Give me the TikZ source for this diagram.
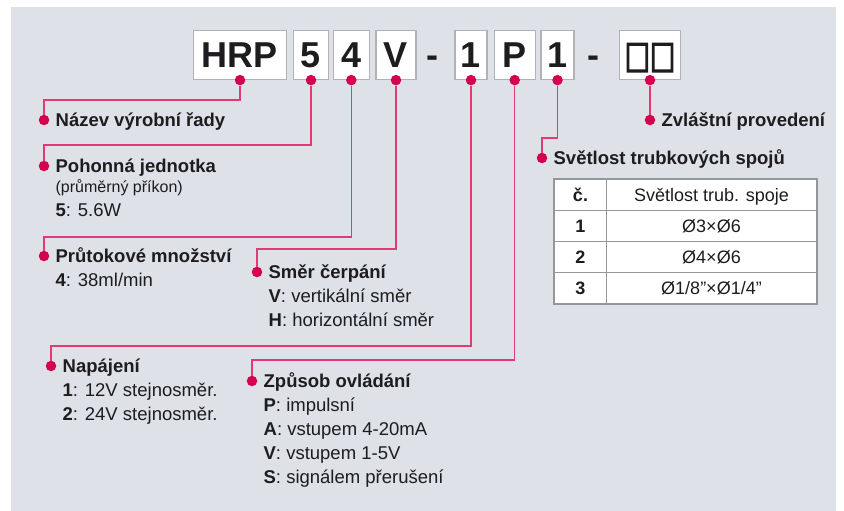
\documentclass[tikz,border=0pt]{standalone}
\usepackage{fontspec}
\setmainfont{Liberation Sans}
\newfontfamily\squarefont[FakeBold=3,FakeStretch=0.7]{Liberation Sans}
\usetikzlibrary{positioning,matrix}
\definecolor{panel}{RGB}{222,225,232}
\definecolor{pinred}{RGB}{213,0,80}
\definecolor{leadred}{RGB}{226,58,118}
\definecolor{frame}{RGB}{178,178,182}
\definecolor{tablegray}{RGB}{150,150,154}
\definecolor{ink}{RGB}{30,28,30}
\begin{document}
\begin{tikzpicture}[x=1pt,y=-1pt,
	codebox/.style={draw=frame,line width=1.2pt,fill=white,minimum height=49pt,inner sep=0pt,
		text height=26pt,text depth=0pt,text=ink,font=\bfseries\fontsize{36}{36}\selectfont},
	dashmark/.style={inner sep=0pt,text height=26pt,text depth=0pt,text=ink,
		font=\bfseries\fontsize{36}{36}\selectfont},
	pindot/.style={circle,fill=pinred,minimum size=10.5pt,inner sep=0pt},
	lead/.style={draw=leadred,line width=1.3pt},
	heading/.style={inner sep=0pt,text height=13pt,text depth=0pt,anchor=west,text=ink,
		font=\bfseries\fontsize{18.5}{22}\selectfont},
	entry/.style={inner sep=0pt,anchor=base west,text=ink,font=\fontsize{18.5}{22}\selectfont},
	smallnote/.style={inner sep=0pt,anchor=base west,text=ink,font=\fontsize{16}{19}\selectfont}]
	\useasboundingbox (0,0) rectangle (844,511);
	\fill[panel] (11,7) rectangle (836,511);

	\node[codebox,minimum width=93pt] (hrp) at (240,55) {HRP};
	\node[codebox,minimum width=35pt] (pw) at (311,55) {5};
	\node[codebox,minimum width=36pt] (fl) at (351.3,55) {4};
	\node[codebox,minimum width=40pt] (dir) at (396,55) {V};
	\node[dashmark] (da) at (432,55) {-};
	\node[codebox,minimum width=32pt] (volt) at (471,55) {1};
	\node[codebox,minimum width=41pt] (ctl) at (514.7,55) {P};
	\node[codebox,minimum width=33pt] (tube) at (557.5,55) {1};
	\node[dashmark] (db) at (593,55) {-};
	\node[codebox,minimum width=61pt,text height=34pt,font=\squarefont\fontsize{48}{48}\selectfont] (spec) at (650,55) {□\kern5pt□};

	\node[pindot] (p1) at (hrp.south) {};
	\node[pindot] (p2) at (pw.south) {};
	\node[pindot] (p3) at (fl.south) {};
	\node[pindot] (p4) at (dir.south) {};
	\node[pindot] (p5) at (volt.south) {};
	\node[pindot] (p6) at (ctl.south) {};
	\node[pindot] (p7) at (tube.south) {};
	\node[pindot] (p8) at (spec.south) {};

	\node[pindot] (l1) at (44,120) {};
	\node[heading,right=6pt of l1] (t1) {Název výrobní řady};

	\node[pindot] (l2) at (44,166) {};
	\node[heading,right=6pt of l2] (t2) {Pohonná jednotka};
	\node[smallnote] (t2a) at ([yshift=-20pt]t2.base west) {(průměrný příkon)};
	\node[entry] (t2b) at ([yshift=-23.5pt]t2a.base west) {\textbf{5}: 5.6W};

	\node[pindot] (l3) at (44,256) {};
	\node[heading,right=6pt of l3] (t3) {Průtokové množství};
	\node[entry] (t3a) at ([yshift=-24pt]t3.base west) {\textbf{4}: 38ml/min};

	\node[pindot] (l4) at (257,272) {};
	\node[heading,right=6pt of l4] (t4) {Směr čerpání};
	\node[entry] (t4a) at ([yshift=-24pt]t4.base west) {\textbf{V}: vertikální směr};
	\node[entry] (t4b) at ([yshift=-24pt]t4a.base west) {\textbf{H}: horizontální směr};

	\node[pindot] (l5) at (51,366) {};
	\node[heading,right=6pt of l5] (t5) {Napájení};
	\node[entry] (t5a) at ([yshift=-24pt]t5.base west) {\textbf{1}: 12V stejnosměr.};
	\node[entry] (t5b) at ([yshift=-24pt]t5a.base west) {\textbf{2}: 24V stejnosměr.};

	\node[pindot] (l6) at (252,381) {};
	\node[heading,right=6pt of l6] (t6) {Způsob ovládání};
	\node[entry] (t6a) at ([yshift=-24pt]t6.base west) {\textbf{P}: impulsní};
	\node[entry] (t6b) at ([yshift=-24pt]t6a.base west) {\textbf{A}: vstupem 4-20mA};
	\node[entry] (t6c) at ([yshift=-24pt]t6b.base west) {\textbf{V}: vstupem 1-5V};
	\node[entry] (t6d) at ([yshift=-24pt]t6c.base west) {\textbf{S}: signálem přerušení};

	\node[pindot] (l7) at (542,158) {};
	\node[heading,right=6pt of l7] (t7) {Světlost trubkových spojů};

	\node[pindot] (l8) at (spec.south |- 0,120) {};
	\node[heading,right=6pt of l8] (t8) {Zvláštní provedení};

	\draw[lead] (p1) -- (p1 |- 0,100) -| (l1);
	\draw[lead] (p2) -- (p2 |- 0,145) -| (l2);
	\draw[lead] (p3) -- (p3 |- 0,237) -| (l3);
	\draw[lead] (p4) -- (p4 |- 0,249) -| (l4);
	\draw[lead] (p5) -- (p5 |- 0,346) -| (l5);
	\draw[lead] (p6) -- (p6 |- 0,360) -| (l6);
	\draw[lead] (p7) -- (p7 |- 0,138) -| (l7);
	\draw[lead] (p8) -- (l8);

	\matrix (sizes) [matrix of nodes,anchor=north west,inner sep=0pt,draw=tablegray,
		line width=1.8pt,fill=white,column sep=-1.2pt,row sep=-1.2pt,
		nodes={draw=tablegray,line width=1.2pt,minimum height=31pt,inner sep=0pt,
			text height=13pt,text depth=0pt,text=ink,font=\fontsize{18}{20}\selectfont},
		column 1/.style={nodes={minimum width=52pt,font=\bfseries\fontsize{18}{20}\selectfont}},
		column 2/.style={nodes={minimum width=210pt}}] at (553,178) {
		č. & Světlost trub. spoje \\
		1 & Ø3×Ø6 \\
		2 & Ø4×Ø6 \\
		3 & Ø1/8”×Ø1/4” \\
	};
\end{tikzpicture}
\end{document}
